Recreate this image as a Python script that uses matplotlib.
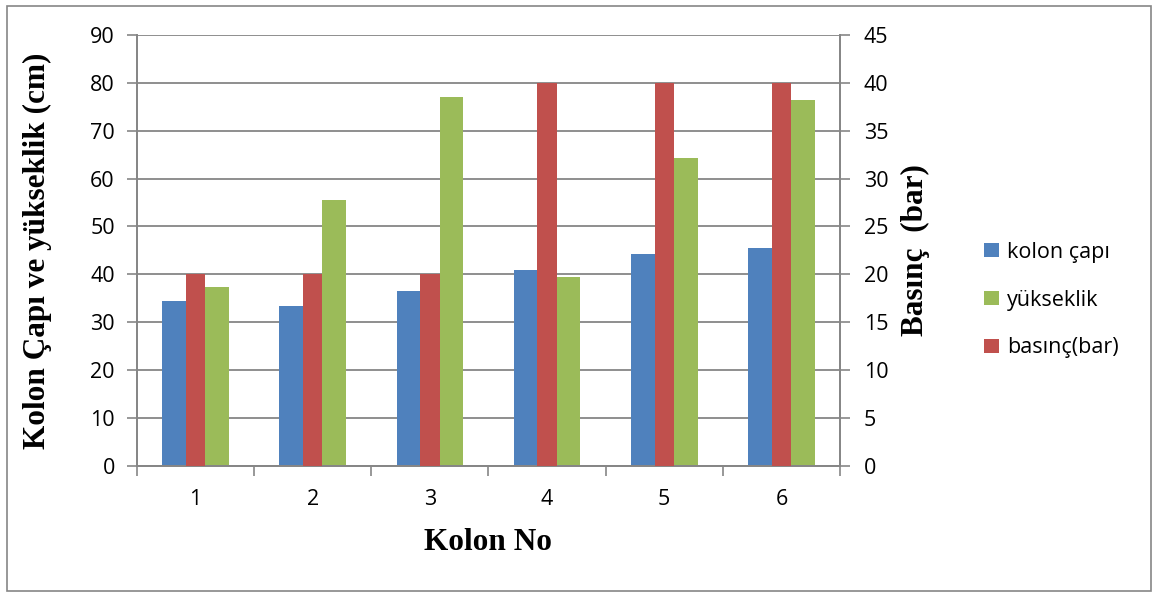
import matplotlib.pyplot as plt
from matplotlib.patches import Rectangle

# data
kolon_no = ["1", "2", "3", "4", "5", "6"]
kolon_capi = [34.4, 33.4, 36.6, 40.8, 44.2, 45.5]
yukseklik = [37.4, 55.5, 77.1, 39.4, 64.3, 76.4]
basinc = [20, 20, 20, 40, 40, 40]

blue = "#4F81BD"
red = "#C0504D"
green = "#9BBB59"
grid_col = "#868686"
tick_font = "Open Sans"
tick_size = 15.5

fig = plt.figure(figsize=(11.53, 5.93), dpi=100)
ax = fig.add_axes([0.1188, 0.2147, 0.7285 - 0.1188, 0.941 - 0.2147])
ax2 = ax.twinx()

x = list(range(len(kolon_no)))
ax.bar([i - 0.183 for i in x], kolon_capi, width=0.202, color=blue, zorder=2, label="kolon çapı")
ax.bar([i + 0.184 for i in x], yukseklik, width=0.202, color=green, zorder=2, label="yükseklik")
ax2.bar(x, basinc, width=0.165, color=red, zorder=3, label="basınç(bar)")

ax.set_xlim(-0.5, len(kolon_no) - 0.5)
ax.set_ylim(0, 90)
ax2.set_ylim(0, 45)
ax.set_yticks(range(0, 91, 10))
ax2.set_yticks(range(0, 46, 5))

# category boundaries get the tick marks, labels sit in the middle
ax.set_xticks([i - 0.5 for i in range(len(kolon_no) + 1)])
ax.set_xticklabels([])
ax.set_xticks(x, minor=True)
ax.set_xticklabels(kolon_no, minor=True, fontsize=tick_size, family=tick_font)
ax.tick_params(axis="x", which="major", length=7, color=grid_col, width=1.2)
ax.tick_params(axis="x", which="minor", length=0, pad=17)
ax.tick_params(axis="y", length=7, color=grid_col, width=1.2, labelsize=tick_size, pad=9)
ax2.tick_params(axis="y", length=7, color=grid_col, width=1.2, labelsize=tick_size, pad=10)
for lab in ax.get_yticklabels() + ax2.get_yticklabels():
    lab.set_family(tick_font)

ax.yaxis.grid(True, color=grid_col, linewidth=1.3, zorder=0)
ax.set_axisbelow(True)

for a in (ax, ax2):
    a.spines["top"].set_visible(False)
    for s in ("left", "right", "bottom"):
        a.spines[s].set_color(grid_col)
        a.spines[s].set_linewidth(1.3)

label_font = dict(fontsize=22.5, fontweight="bold", family="Liberation Serif")
ax.set_xlabel("Kolon No", **label_font)
ax.set_ylabel("Kolon Çapı ve yükseklik (cm)", **label_font)
ax2.set_ylabel("Basınç  (bar)", **label_font)
ax.xaxis.set_label_coords(0.5, -0.179)
ax.yaxis.set_label_coords(-0.142, 0.5)
ax2.yaxis.set_label_coords(1.107, 0.5)
for lab in (ax.xaxis.label, ax.yaxis.label, ax2.yaxis.label):
    lab.set_va("center")
    lab.set_ha("center")

h1, l1 = ax.get_legend_handles_labels()
h2, l2 = ax2.get_legend_handles_labels()
fig.legend(h1 + h2, l1 + l2, loc="center left", bbox_to_anchor=(0.846, 0.494),
           borderaxespad=0, frameon=False, prop={"family": tick_font, "size": tick_size},
           handlelength=0.68, handleheight=0.68, handletextpad=0.4, labelspacing=1.25)

fig.patches.append(Rectangle((0.006, 0.003), 0.992, 0.987, transform=fig.transFigure,
                             fill=False, edgecolor=grid_col, linewidth=1.2))

fig.savefig("out.png", dpi=100)
